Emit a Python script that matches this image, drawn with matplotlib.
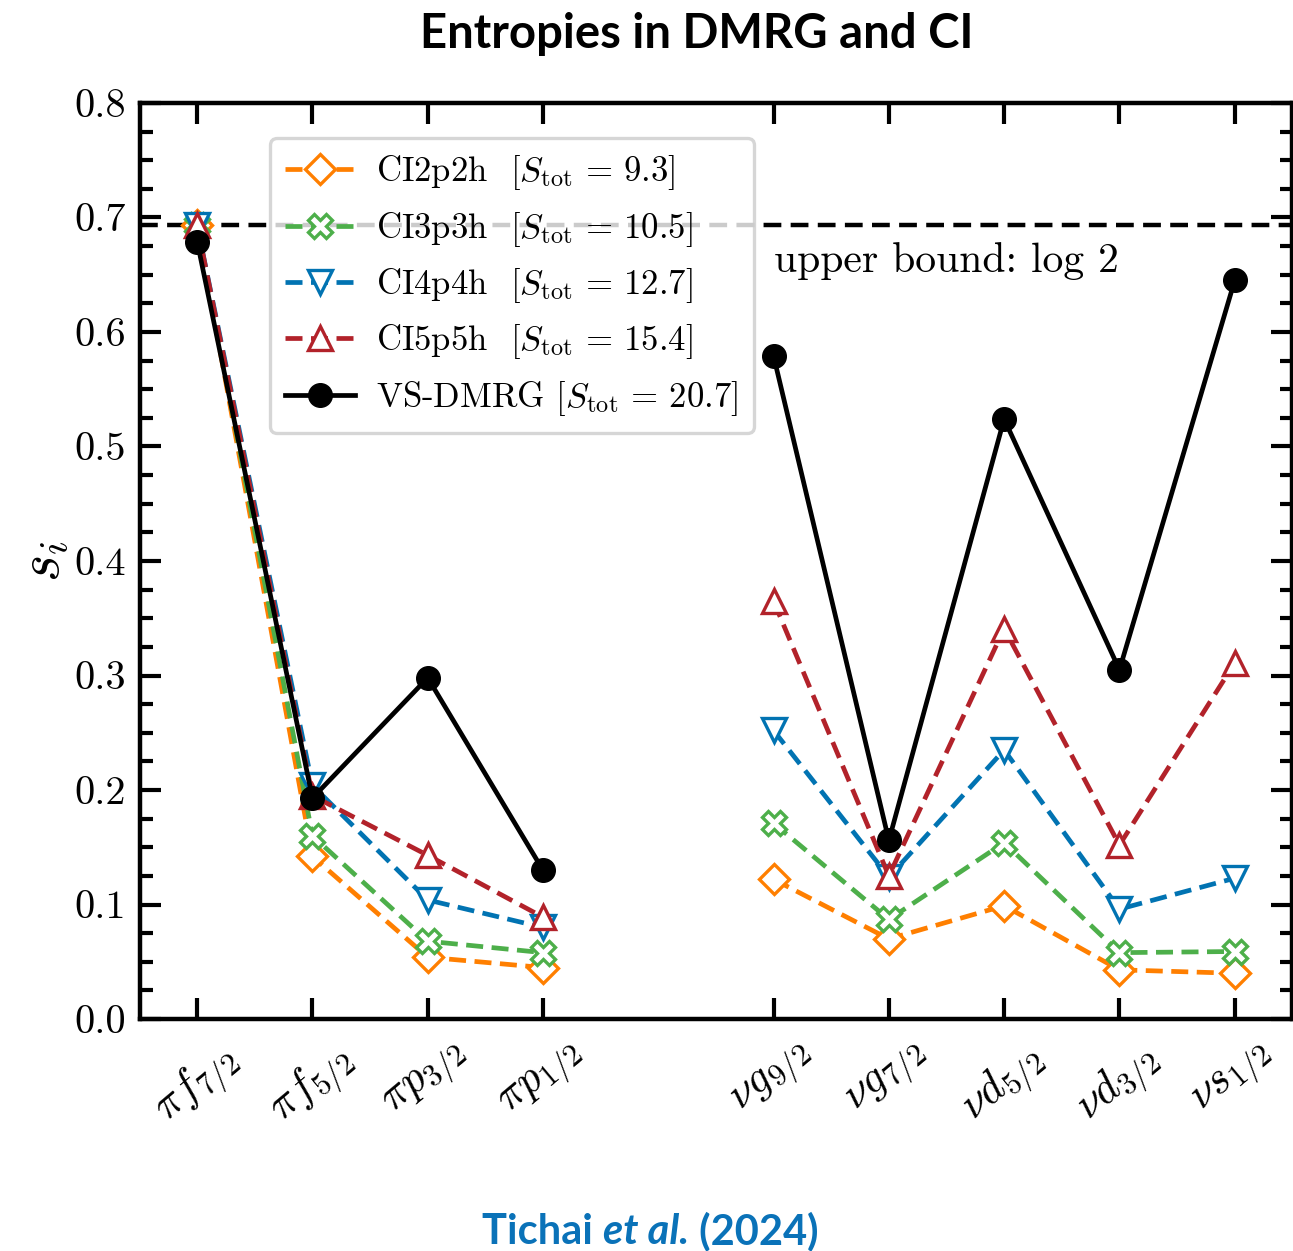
import numpy as np
import matplotlib
matplotlib.use("Agg")
import matplotlib.pyplot as plt

plt.rcParams['font.family'] = 'serif'
plt.rcParams['font.serif'] = ['cmr10']
plt.rcParams['mathtext.fontset'] = 'cm'
plt.rcParams['axes.formatter.use_mathtext'] = True

# single-particle orbitals (protons, then neutrons)
proton_labels = [r'$\pi f_{7/2}$', r'$\pi f_{5/2}$', r'$\pi p_{3/2}$', r'$\pi p_{1/2}$']
neutron_labels = [r'$\nu g_{9/2}$', r'$\nu g_{7/2}$', r'$\nu d_{5/2}$', r'$\nu d_{3/2}$', r'$\nu s_{1/2}$']
proton_x = [0, 1, 2, 3]
neutron_x = [5, 6, 7, 8, 9]

# one-orbital entropies s_i
ci2_p = [0.693, 0.142, 0.054, 0.045]
ci2_n = [0.122, 0.070, 0.099, 0.043, 0.040]
ci3_p = [0.693, 0.160, 0.068, 0.058]
ci3_n = [0.171, 0.087, 0.154, 0.058, 0.059]
ci4_p = [0.693, 0.204, 0.104, 0.080]
ci4_n = [0.252, 0.124, 0.235, 0.096, 0.123]
ci5_p = [0.693, 0.195, 0.143, 0.089]
ci5_n = [0.365, 0.125, 0.341, 0.152, 0.311]
dmrg_p = [0.679, 0.193, 0.298, 0.130]
dmrg_n = [0.579, 0.156, 0.524, 0.305, 0.645]

s_tot = [9.3, 10.5, 12.7, 15.4, 20.7]
names = ['CI2p2h  ', 'CI3p3h  ', 'CI4p4h  ', 'CI5p5h  ', 'VS-DMRG ']
colors = ['#ff7f00', '#4daf4a', '#0173b2', '#b2222a', 'black']
markers = ['D', 'X', 'v', '^', 'o']

series_p = [ci2_p, ci3_p, ci4_p, ci5_p, dmrg_p]
series_n = [ci2_n, ci3_n, ci4_n, ci5_n, dmrg_n]

fig = plt.figure(figsize=(12.93, 12.51), dpi=100)
ax = fig.add_axes([0.1079, 0.1854, 0.8916, 0.7323])

for i in range(5):
    label = names[i] + r'$[S_\mathrm{tot}\,=\,%.1f]$' % s_tot[i]
    if i < 4:
        style = dict(color=colors[i], lw=3.4, dashes=(3.6, 1.8), marker=markers[i],
                     ms=17 if markers[i] != 'D' else 15, mfc='white', mec=colors[i], mew=2.4)
    else:
        style = dict(color='black', lw=3.4, ls='-', marker='o', ms=17, mfc='black', mec='black')
    ax.plot(proton_x, series_p[i], label=label, **style)
    ax.plot(neutron_x, series_n[i], **style)

ax.axhline(np.log(2), color='black', lw=3.2, dashes=(4.0, 2.1), zorder=1)
ax.text(5.0, 0.662, 'upper bound: log 2', fontsize=30, ha='left', va='center')

ax.set_xlim(-0.5, 9.5)
ax.set_ylim(0, 0.8)
ax.set_xticks(proton_x + neutron_x)
ax.set_xticklabels(proton_labels + neutron_labels, rotation=40, ha='center', fontsize=32)
ax.set_yticks(np.arange(0, 0.81, 0.1))
ax.set_yticklabels(['%.1f' % v for v in np.arange(0, 0.81, 0.1)], fontsize=29)
ax.yaxis.set_minor_locator(matplotlib.ticker.MultipleLocator(0.025))
ax.tick_params(which='both', direction='in', top=True, right=True, width=3.0)
ax.tick_params(which='major', length=15, pad=10)
ax.tick_params(which='minor', length=9)
ax.tick_params(axis='x', pad=12)
for sp in ax.spines.values():
    sp.set_linewidth(3.2)

ax.set_ylabel(r'$s_i$', fontsize=42, labelpad=2)

leg = ax.legend(loc='upper left', bbox_to_anchor=(0.098, 0.981), fontsize=25,
                handlelength=2.0, handletextpad=0.6, borderpad=0.45, labelspacing=0.5,
                framealpha=0.8, edgecolor='#cccccc')
leg.get_frame().set_linewidth(2.4)

fig.text(0.539, 0.973, 'Entropies in DMRG and CI', fontsize=34, fontweight='bold',
         family='Lato', ha='center', va='center')

blue = '#0a72b8'
t1 = fig.text(0.373, 0.0, 'Tichai ', fontsize=30, fontweight='bold', family='Lato',
              color=blue, ha='left', va='bottom')
t2 = ax.annotate('et al.', xy=(1, 0), xycoords=t1, fontsize=30, fontweight='bold',
                 style='italic', family='Lato', color=blue, ha='left', va='bottom')
t3 = ax.annotate(' (2024)', xy=(1, 0), xycoords=t2, fontsize=30, fontweight='bold',
                 family='Lato', color=blue, ha='left', va='bottom')

fig.savefig('out.png', dpi=100)
